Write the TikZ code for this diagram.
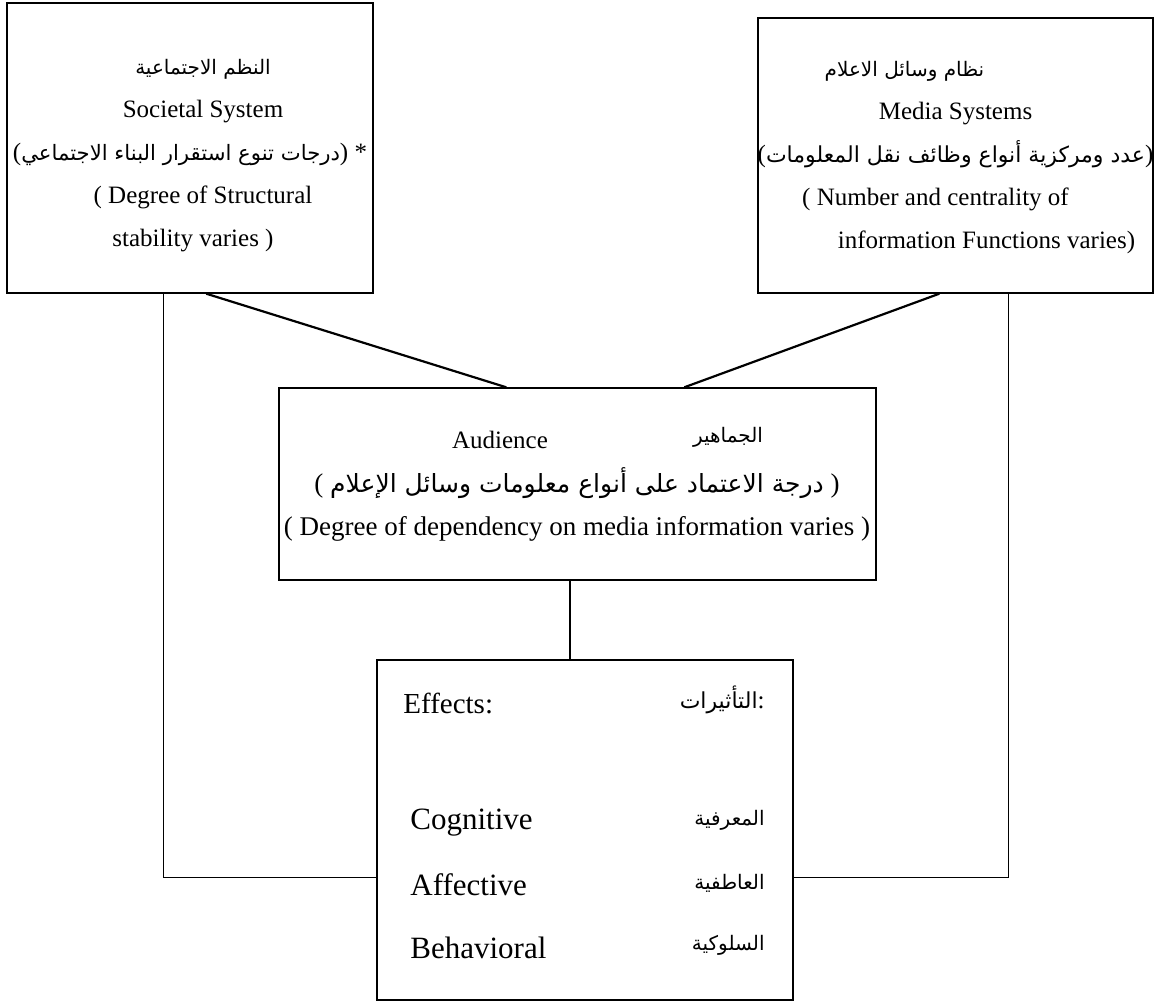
\documentclass[tikz,border=0pt]{standalone}
\usepackage{fontspec}
\setmainfont{Liberation Serif}
\newfontfamily\arabicfont[Script=Arabic]{DejaVu Sans}
\TeXXeTstate=1
\usetikzlibrary{positioning}

% Arabic run, right to left (optional size)
\newcommand{\artxt}[2][10]{{\arabicfont\fontsize{#1}{14}\selectfont\beginR #2\endR}}

\begin{document}
\begin{tikzpicture}[
  x=0.5pt, y=-0.5pt,
  box/.style={draw, line width=0.7pt, inner sep=0pt},
  txt/.style={align=center, inner sep=0pt, font=\fontsize{12.5}{21.5}\selectfont},
  bigtxt/.style={txt, font=\fontsize{13.5}{21.5}\selectfont},
  efftxt/.style={inner sep=0pt, font=\fontsize{15.5}{18}\selectfont},
  link/.style={line width=0.7pt},
  slant/.style={line width=1.1pt},
]
\useasboundingbox (0,0) rectangle (1155,1002);

\node[box, minimum width=183pt, minimum height=145pt] (soc) at (190,148) {};
\node[box, minimum width=197.5pt, minimum height=137.5pt] (med) at (955.5,155.5) {};
\node[box, minimum width=298.5pt, minimum height=96pt] (aud) at (577.5,484) {};
\node[box, minimum width=208pt, minimum height=170pt] (eff) at (585,830) {};

\node[txt] (socT) at (203,155.5) {\artxt{النظم الاجتماعية}\\
  Societal System\\
  \hspace*{-13pt}(\artxt[10.6]{درجات تنوع استقرار البناء الاجتماعي}) *\\
  ( Degree of Structural\\
  \hspace*{-10pt}stability varies )};
\node[txt] (medT) at (955.5,158) {\artxt{نظام وسائل الاعلام}\hspace*{51pt}\\
  Media Systems\\
  (\artxt[11]{عدد ومركزية أنواع وظائف نقل المعلومات})\\
  \hspace*{-20pt}( Number and centrality of\\
  \hspace*{31pt}information Functions varies)};

\node[txt] (audT) at (500,440) {Audience};
\node[txt] (audA) at (728,437) {\artxt{الجماهير}};
\node[bigtxt] (audL) at (577,504.5) {( \artxt[12.5]{درجة الاعتماد على أنواع معلومات وسائل الإعلام} )\\
  ( Degree of dependency on media information varies )};

\node[txt, anchor=west, font=\fontsize{14.5}{16}\selectfont] (effE) at (403,703) {Effects:};
\node[txt, anchor=east] (effA) at (765,700) {\artxt[11]{التأثيرات}:};
\node[efftxt, anchor=west] (cogE) at (410,823) {Cognitive};
\node[txt, anchor=east] (cogA) at (765,820) {\artxt{المعرفية}};
\node[efftxt, anchor=west] (affE) at (410,885) {Affective};
\node[txt, anchor=east] (affA) at (765,883) {\artxt{العاطفية}};
\node[efftxt, anchor=west] (behE) at (410,948) {Behavioral};
\node[txt, anchor=east] (behA) at (765,945) {\artxt{السلوكية}};

\draw[link] ([xshift=78.5pt]soc.south west) |- ([yshift=-109pt]eff.north west);
\draw[link] ([xshift=-72.5pt]med.south east) |- ([yshift=-109pt]eff.north east);
\draw[slant] ([xshift=100pt]soc.south west) -- ([xshift=114pt]aud.north west);
\draw[slant] ([xshift=91pt]med.south west) -- ([xshift=203pt]aud.north west);
\draw[link] ([xshift=-3.75pt]aud.south) -- ([xshift=-3.75pt]aud.south |- eff.north);
\end{tikzpicture}
\end{document}
